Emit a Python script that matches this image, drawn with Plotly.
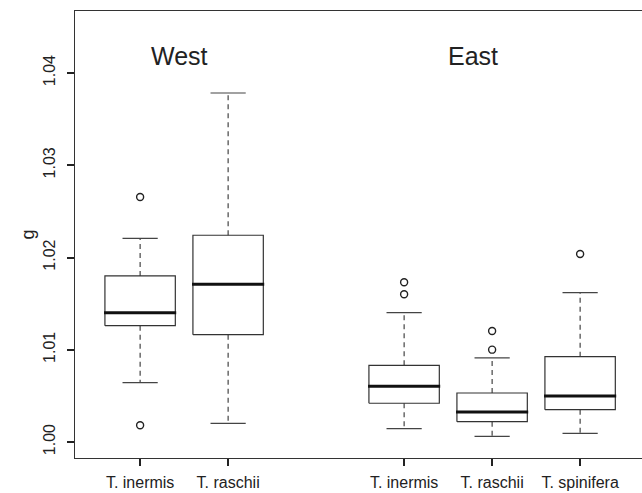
import plotly.graph_objects as go

# ---- data ----
positions = [1, 2, 4, 5, 6]
species = ["T. inermis", "T. raschii", "T. inermis", "T. raschii", "T. spinifera"]
lower_whisker = [1.00643, 1.00203, 1.00145, 1.00062, 1.00094]
q1 = [1.01261, 1.01163, 1.00420, 1.00220, 1.00350]
median = [1.01402, 1.01710, 1.00604, 1.00325, 1.00499]
q3 = [1.01800, 1.02241, 1.00831, 1.00531, 1.00925]
upper_whisker = [1.02208, 1.03783, 1.01402, 1.00911, 1.01619]
outliers = [[1.02656, 1.00181], [], [1.01731, 1.01601], [1.01203, 1.01001], [1.02038]]

regions = ["West", "East"]
region_x = [1.45, 4.78]
region_y = [1.0418, 1.0418]

y_ticks = [1.00, 1.01, 1.02, 1.03, 1.04]
y_ticklabels = ["1.00", "1.01", "1.02", "1.03", "1.04"]

# ---- styling ----
BOX_HALF = 0.4
CAP_HALF = 0.2
FONT = "Liberation Sans, Arial, Helvetica, sans-serif"
INK = "#222222"

fig = go.Figure()

box_x, box_y = [], []
med_x, med_y = [], []
wh_x, wh_y = [], []
cap_x, cap_y = [], []
out_x, out_y = [], []
for p, lw, a, m, b, uw, outs in zip(positions, lower_whisker, q1, median, q3, upper_whisker, outliers):
    box_x += [p - BOX_HALF, p + BOX_HALF, p + BOX_HALF, p - BOX_HALF, p - BOX_HALF, None]
    box_y += [a, a, b, b, a, None]
    med_x += [p - BOX_HALF - 0.01, p + BOX_HALF + 0.01, None]
    med_y += [m, m, None]
    wh_x += [p, p, None, p, p, None]
    wh_y += [b, uw, None, a, lw, None]
    cap_x += [p - CAP_HALF, p + CAP_HALF, None, p - CAP_HALF, p + CAP_HALF, None]
    cap_y += [uw, uw, None, lw, lw, None]
    for o in outs:
        out_x.append(p)
        out_y.append(o)

fig.add_trace(go.Scatter(x=wh_x, y=wh_y, mode="lines",
                         line=dict(color="#333333", width=1.1, dash="5px,4px"),
                         hoverinfo="skip", showlegend=False))
fig.add_trace(go.Scatter(x=cap_x, y=cap_y, mode="lines",
                         line=dict(color="#444444", width=1.2),
                         hoverinfo="skip", showlegend=False))
fig.add_trace(go.Scatter(x=box_x, y=box_y, mode="lines",
                         line=dict(color="#333333", width=1.2),
                         hoverinfo="skip", showlegend=False))
fig.add_trace(go.Scatter(x=med_x, y=med_y, mode="lines",
                         line=dict(color="#111111", width=3),
                         hoverinfo="skip", showlegend=False))
fig.add_trace(go.Scatter(x=out_x, y=out_y, mode="markers",
                         marker=dict(symbol="circle-open", size=7, color="#222222",
                                     line=dict(width=1.4, color="#222222")),
                         hoverinfo="skip", showlegend=False))

for name, rx, ry in zip(regions, region_x, region_y):
    fig.add_annotation(x=rx, y=ry, text=name, showarrow=False,
                       font=dict(family=FONT, size=25, color=INK),
                       xanchor="center", yanchor="middle")

fig.update_layout(
    width=642, height=493,
    margin=dict(l=75, r=0, t=11, b=35, autoexpand=False),
    paper_bgcolor="white", plot_bgcolor="white",
    showlegend=False,
    font=dict(family=FONT, size=16, color=INK),
)
fig.update_xaxes(
    range=[0.26, 0.26 + (642 - 75) / 88.0],
    tickmode="array", tickvals=positions, ticktext=species,
    showgrid=False, zeroline=False, automargin=False,
    showline=True, linecolor="#333333", linewidth=1.2, mirror=True,
    ticks="outside", ticklen=7, tickwidth=2, tickcolor=INK,
    tickfont=dict(family=FONT, size=16, color=INK),
    ticklabelstandoff=3,
)
fig.update_yaxes(
    range=[0.998266, 1.046721],
    tickmode="array", tickvals=y_ticks, ticktext=y_ticklabels,
    tickangle=-90,
    showgrid=False, zeroline=False, automargin=False,
    showline=True, linecolor="#333333", linewidth=1.2,
    ticks="outside", ticklen=7, tickwidth=2, tickcolor=INK,
    tickfont=dict(family=FONT, size=16, color=INK),
    ticklabelstandoff=6,
    title=dict(text="g", font=dict(family=FONT, size=18, color=INK), standoff=1),
)

fig.write_html(
    "out.html",
    config={"displayModeBar": False},
    post_script="document.body.style.margin='0px';document.body.style.padding='0px';",
)
